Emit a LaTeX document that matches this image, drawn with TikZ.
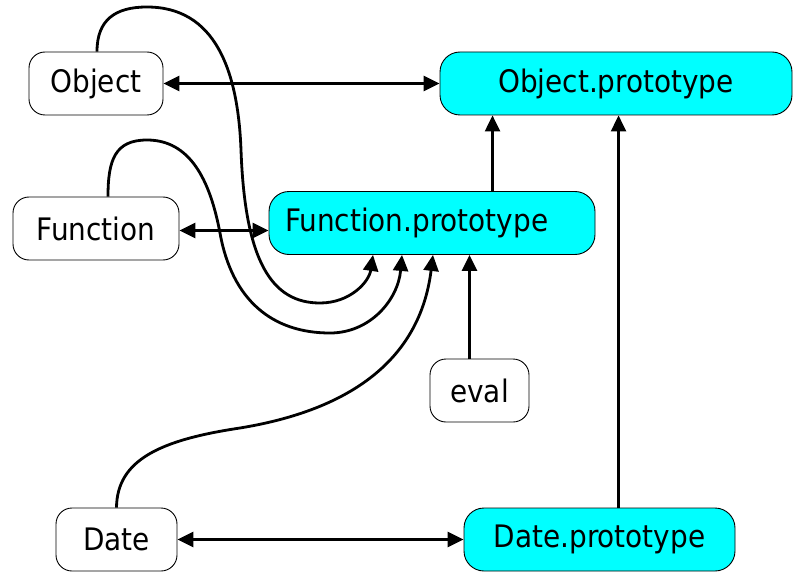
\documentclass[tikz,border=0pt]{standalone}
\usepackage{fontspec}
\setmainfont{DejaVu Sans Condensed}
\usetikzlibrary{arrows.meta}
\definecolor{aqua}{RGB}{0,255,255}
\begin{document}
\begin{tikzpicture}[x=1pt,y=-1pt,
  box/.style={draw=black, line width=0.9pt, rounded corners=16pt, fill=white, inner sep=0pt,
    font=\fontsize{31}{36}\selectfont, minimum height=63pt},
  cbox/.style={box, fill=aqua, rounded corners=20pt},
  arr/.style={line width=2.8pt, -{Triangle[length=16pt,width=15pt]}},
  dbl/.style={line width=2.8pt, {Triangle[length=16pt,width=15pt]}-{Triangle[length=16pt,width=15pt]}}]
\useasboundingbox (0,0) rectangle (794,572);
\node[box, minimum width=134pt] (obj) at (96,83.5) {Object};
\node[cbox, minimum width=352pt] (objp) at (616,83.5) {Object.prototype};
\node[box, minimum width=166pt] (fun) at (96,228.5) {Function};
\node[cbox, minimum width=326pt, text width=294pt, align=left] (funp) at (432,223) {Function.prototype};
\node[box, minimum width=99pt] (eval) at (479.5,390.5) {eval};
\node[box, minimum width=121pt] (date) at (116.5,539.5) {Date};
\node[cbox, minimum width=271pt] (datep) at (599.5,539.5) {Date.prototype};
% straight connectors
\draw[dbl] (obj.east) -- (objp.west);
\draw[dbl] ([yshift=-2pt]fun.east) -- ([yshift=-2pt]fun.east -| funp.west);
\draw[dbl] (date.east) -- (datep.west);
\draw[arr] ([xshift=53pt]objp.south west |- funp.north) -- ([xshift=53pt]objp.south west);
\draw[arr] ([xshift=155pt]datep.north west) -- ([xshift=155pt]datep.north west |- objp.south);
\draw[arr] ([xshift=-10pt]eval.north) -- ([xshift=-10pt]eval.north |- funp.south);
% curved connectors
\coordinate (tipA) at ([xshift=-59pt]funp.south);
\coordinate (tipB) at ([xshift=-30pt]funp.south);
\coordinate (tipC) at ([xshift=1pt]funp.south);
\draw[arr] ([xshift=1pt]obj.north) .. controls (97,20) and (115,7) .. (147,7)
  .. controls (215,7) and (238,70) .. (241,150)
  .. controls (245,262) and (272,303) .. (320,303)
  .. controls (350,303) and (369,282) .. (tipA);
\draw[arr] ([xshift=12pt]fun.north) .. controls (108,160) and (115,140) .. (147,140)
  .. controls (190,140) and (210,180) .. (220,233)
  .. controls (232,300) and (272,333) .. (330,333)
  .. controls (370,333) and (398,300) .. (tipB);
\draw[arr] (date.north) .. controls (117,460) and (160,440) .. (240,428)
  .. controls (350,410) and (420,360) .. (tipC);
\end{tikzpicture}
\end{document}
